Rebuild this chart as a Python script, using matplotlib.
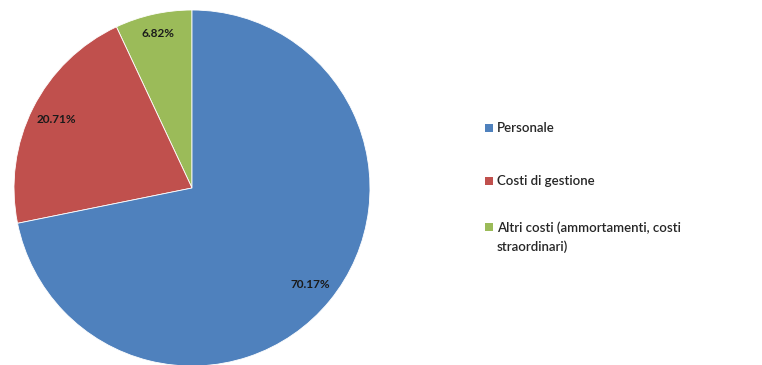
import numpy as np
import matplotlib
matplotlib.use("Agg")
import matplotlib.pyplot as plt
from matplotlib.patches import Rectangle

# data
categories = ["Personale", "Costi di gestione", "Altri costi (ammortamenti, costi\nstraordinari)"]
values = [70.17, 20.71, 6.82]
pct_labels = ["70.17%", "20.71%", "6.82%"]
colors = ["#4F81BD", "#C0504D", "#9BBB59"]

# pie drawn counter-clockwise from 12 o'clock: green, red, blue
order = [2, 1, 0]
label_dist = [0.86, 0.85, 0.89]   # per category

fig = plt.figure(figsize=(7.62, 3.65), dpi=100)
fig.patch.set_facecolor("white")

ax = fig.add_axes([14 / 762, -1 / 365, 356 / 762, 356 / 365])
wedges, _ = ax.pie([values[i] for i in order], colors=[colors[i] for i in order],
                   startangle=90, counterclock=True, radius=1,
                   wedgeprops=dict(edgecolor="white", linewidth=0.6))
ax.set_xlim(-1, 1)
ax.set_ylim(-1, 1)
ax.set_aspect("equal")
ax.axis("off")

# percentage labels
for w, i in zip(wedges, order):
    ang = np.deg2rad((w.theta1 + w.theta2) / 2)
    r = label_dist[i]
    ax.text(r * np.cos(ang), r * np.sin(ang), pct_labels[i], ha="center", va="center",
            fontsize=8.5, fontweight="bold", color="#1a1a1a", family="Lato")

# legend, drawn like the spreadsheet one
leg_y = [128, 181, 227]
for cat, col, y in zip(categories, colors, leg_y):
    fig.patches.append(Rectangle((485 / 762, (365 - y - 4) / 365), 8 / 762, 8 / 365,
                                 transform=fig.transFigure, facecolor=col, edgecolor="none"))
    if "\n" in cat:
        fig.text(497 / 762, (365 - y + 6) / 365, cat, ha="left", va="top",
                 fontsize=9.5, color="#262626", family="Lato", fontweight="semibold",
                 linespacing=1.65)
    else:
        fig.text(497 / 762, (365 - y) / 365, cat, ha="left", va="center",
                 fontsize=9.5, color="#262626", family="Lato", fontweight="semibold")

fig.savefig("out.png", dpi=100)
